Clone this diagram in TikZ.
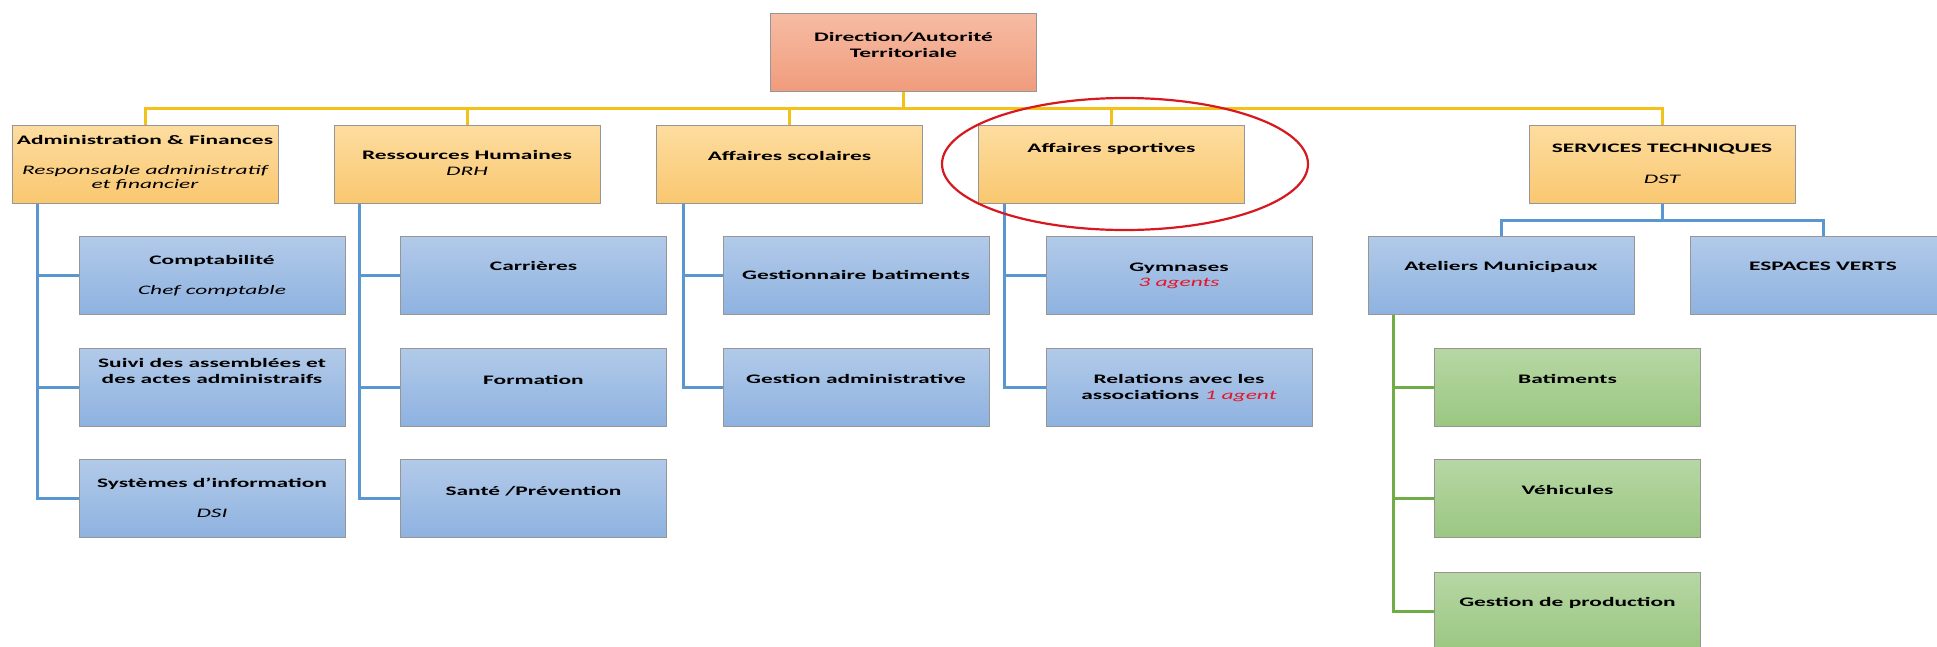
\documentclass[tikz,border=0pt]{standalone}
\usepackage{fontspec}
\setmainfont{Carlito}[FakeStretch=1.8]
\usepackage{tikz}
\usetikzlibrary{calc}
\definecolor{headTop}{RGB}{246,188,164}
\definecolor{headBot}{RGB}{240,156,124}
\definecolor{deptTop}{RGB}{253,221,160}
\definecolor{deptBot}{RGB}{249,199,112}
\definecolor{unitTop}{RGB}{178,202,233}
\definecolor{unitBot}{RGB}{142,178,224}
\definecolor{teamTop}{RGB}{182,215,164}
\definecolor{teamBot}{RGB}{155,199,129}
\definecolor{boxEdge}{RGB}{150,150,150}
\definecolor{busGold}{RGB}{242,194,24}
\definecolor{linkBlue}{RGB}{90,150,208}
\definecolor{linkGreen}{RGB}{112,173,71}
\definecolor{ringRed}{RGB}{214,24,32}
\definecolor{noteRed}{RGB}{232,20,40}
\newcommand{\role}[1]{{\mdseries\itshape #1}}
\newcommand{\agents}[1]{{\mdseries\itshape\color{noteRed}#1}}
\tikzset{
	textat/.style={text height=#1pt, text depth={78pt-#1pt}},
	card/.style={draw=boxEdge, line width=1pt, minimum width=266pt, minimum height=78pt,
		inner xsep=1pt, inner ysep=0pt, align=center,
		font=\fontsize{13}{15.5}\selectfont\bfseries, textat=35},
	head/.style={card, top color=headTop, bottom color=headBot},
	dept/.style={card, top color=deptTop, bottom color=deptBot},
	unit/.style={card, top color=unitTop, bottom color=unitBot},
	team/.style={card, top color=teamTop, bottom color=teamBot},
	bus/.style={busGold, line width=3pt},
	link/.style={linkBlue, line width=3pt},
	sublink/.style={linkGreen, line width=3pt},
	ring/.style={ringRed, line width=2.2pt}
}

\begin{document}
\begin{tikzpicture}[x=1pt, y=-1pt]
	\useasboundingbox (0,0) rectangle (1937,646);
	\clip (0,0) rectangle (1937,646);

	% top and first level
	\node[head, textat=44] (dir) at (903.5,52) {Direction/Autorité\\Territoriale};
	\node[dept, textat=63] (admin) at (145,164) {Administration \& Finances\\[14pt]\role{Responsable administratif}\\[-1.5pt]\role{et financier}};
	\node[dept, textat=50] (rh) at (467,164) {Ressources Humaines\\\role{DRH}};
	\node[dept, textat=35] (scol) at (789.5,164) {Affaires scolaires};
	\node[dept, textat=27] (sport) at (1111.5,164) {Affaires sportives};
	\node[dept, textat=58] (tech) at (1662,164) {SERVICES TECHNIQUES\\[15pt]\role{DST}};

	% services
	\node[unit, textat=58] (compta) at (212,275.5) {Comptabilité\\[15pt]\role{Chef comptable}};
	\node[unit, textat=35] (suivi) at (212,387) {Suivi des assemblées et\\des actes administraifs};
	\node[unit, textat=58] (dsi) at (212,498.5) {Systèmes d'information\\[15pt]\role{DSI}};
	\node[unit, textat=34] (carr) at (533.5,275.5) {Carrières};
	\node[unit, textat=36] (form) at (533.5,387) {Formation};
	\node[unit, textat=36] (sante) at (533.5,498.5) {Santé /Prévention};
	\node[unit, textat=43] (gestbat) at (856,275.5) {Gestionnaire batiments};
	\node[unit, textat=35] (gestadm) at (856,387) {Gestion administrative};
	\node[unit, textat=50] (gym) at (1179,275.5) {Gymnases\\\agents{3 agents}};
	\node[unit, textat=51] (assoc) at (1179,387) {Relations avec les\\associations \agents{1 agent}};
	\node[unit, textat=34] (atel) at (1501,275.5) {Ateliers Municipaux};
	\node[unit, textat=34] (verts) at (1823,275.5) {ESPACES VERTS};
	\node[team, textat=35] (bat) at (1567.5,387) {Batiments};
	\node[team, textat=35] (vehic) at (1567.5,498.5) {Véhicules};
	\node[team, textat=34] (prod) at (1567.5,611) {Gestion de production};

	% yellow bus
	\coordinate (bus) at (903.5,108);
	\draw[bus] (admin.north) |- (bus) -| (tech.north);
	\draw[bus] (dir.south) -- (bus);
	\foreach \n in {rh,scol,sport}
		\draw[bus] (\n.north) -- (\n.north |- bus);

	% blue spines
	\draw[link] ([xshift=26pt]admin.south west) coordinate (s1) |- (dsi.west);
	\draw[link] (s1 |- compta.west) -- (compta.west);
	\draw[link] (s1 |- suivi.west) -- (suivi.west);
	\draw[link] ([xshift=26pt]rh.south west) coordinate (s2) |- (sante.west);
	\draw[link] (s2 |- carr.west) -- (carr.west);
	\draw[link] (s2 |- form.west) -- (form.west);
	\draw[link] ([xshift=27pt]scol.south west) coordinate (s3) |- (gestadm.west);
	\draw[link] (s3 |- gestbat.west) -- (gestbat.west);
	\draw[link] ([xshift=26pt]sport.south west) coordinate (s4) |- (assoc.west);
	\draw[link] (s4 |- gym.west) -- (gym.west);
	\draw[link] (atel.north) -- ++(0,-16) -| (tech.south);
	\draw[link] (verts.north) -- ++(0,-16) -| (tech.south);

	% green spine
	\draw[sublink] ([xshift=26pt]atel.south west) coordinate (s5) |- (prod.west);
	\draw[sublink] (s5 |- bat.west) -- (bat.west);
	\draw[sublink] (s5 |- vehic.west) -- (vehic.west);

	% highlight
	\draw[ring] (1125,164) ellipse [x radius=183pt, y radius=66pt];
\end{tikzpicture}
\end{document}
